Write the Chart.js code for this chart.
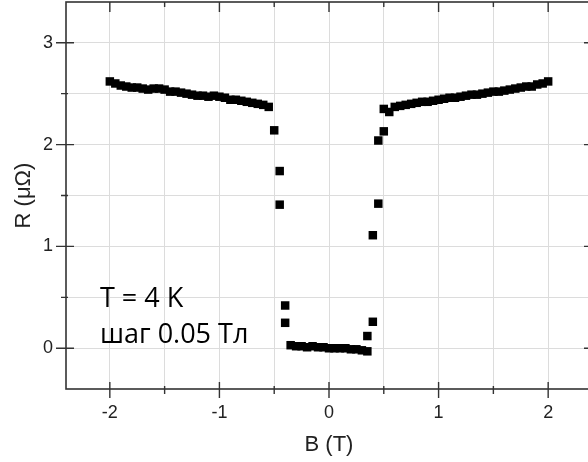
<!DOCTYPE html>
<html>
<head>
<meta charset="utf-8">
<script src="https://cdn.jsdelivr.net/npm/chart.js@4"></script>
<style>
  html, body { margin: 0; padding: 0; background: #fff; overflow: hidden; }
  #wrap { position: relative; width: 600px; height: 462px; }
</style>
</head>
<body>
<div id="wrap"><canvas id="rbChart"></canvas></div>
<script>
// Magnetic field B (T), swept in 0.05 T steps; doubled points at the transitions
const fieldB = [
  -2.00, -1.95, -1.90, -1.85, -1.80, -1.75, -1.70, -1.65, -1.60, -1.55,
  -1.50, -1.45, -1.40, -1.35, -1.30, -1.25, -1.20, -1.15, -1.10, -1.05,
  -1.00, -0.95, -0.90, -0.85, -0.80, -0.75, -0.70, -0.65, -0.60, -0.55,
  -0.50, -0.45, -0.45, -0.40, -0.40,
  -0.35, -0.30, -0.25, -0.20, -0.15, -0.10, -0.05, 0.00, 0.05, 0.10,
  0.15, 0.20, 0.25, 0.30, 0.35,
  0.35, 0.40, 0.40, 0.45, 0.45, 0.50, 0.50, 0.55,
  0.60, 0.65, 0.70, 0.75, 0.80, 0.85, 0.90, 0.95, 1.00, 1.05,
  1.10, 1.15, 1.20, 1.25, 1.30, 1.35, 1.40, 1.45, 1.50, 1.55,
  1.60, 1.65, 1.70, 1.75, 1.80, 1.85, 1.90, 1.95, 2.00
];
// Resistance R (uOhm)
const resistR = [
  2.62, 2.60, 2.58, 2.57, 2.56, 2.56, 2.55, 2.54, 2.55, 2.55,
  2.54, 2.52, 2.52, 2.51, 2.50, 2.49, 2.48, 2.48, 2.47, 2.48,
  2.47, 2.46, 2.44, 2.44, 2.43, 2.42, 2.41, 2.40, 2.39, 2.37,
  2.14, 1.74, 1.41, 0.42, 0.25,
  0.03, 0.02, 0.02, 0.01, 0.02, 0.01, 0.01, 0.00, 0.00, 0.00,
  0.00, -0.01, -0.01, -0.02, -0.03,
  0.12, 0.26, 1.11, 1.42, 2.04, 2.13, 2.35, 2.32,
  2.37, 2.38, 2.39, 2.40, 2.41, 2.42, 2.42, 2.43, 2.44, 2.45,
  2.46, 2.46, 2.47, 2.48, 2.49, 2.49, 2.50, 2.51, 2.52, 2.52,
  2.53, 2.54, 2.55, 2.56, 2.57, 2.57, 2.59, 2.60, 2.62
];
const xTickLabels = [-2, -1, 0, 1, 2];
const yTickLabels = [0, 1, 2, 3];
const noteLines = ['T = 4 K', 'шаг 0.05 Тл'];

const points = fieldB.map((b, i) => ({ x: b, y: resistR[i] }));

// frame with Origin-style ticks crossing the axes
const framePlugin = {
  id: 'frame',
  afterDraw(chart) {
    const { ctx, chartArea: a, scales: { x, y } } = chart;
    ctx.save();
    ctx.strokeStyle = '#333';
    ctx.lineWidth = 1.6;
    ctx.strokeRect(a.left, a.top, a.right - a.left, a.bottom - a.top);
    ctx.lineWidth = 1.4;
    ctx.beginPath();
    for (let v = -2; v <= 2.001; v += 0.5) {
      const px = x.getPixelForValue(v);
      const major = Math.abs(v - Math.round(v)) < 1e-6;
      ctx.moveTo(px, a.bottom - (major ? 7 : 3));
      ctx.lineTo(px, a.bottom + (major ? 9 : 5));
      ctx.moveTo(px, a.top);
      ctx.lineTo(px, a.top + (major ? 10 : 5));
    }
    for (let v = 0; v <= 3.001; v += 0.5) {
      const py = y.getPixelForValue(v);
      const major = Math.abs(v - Math.round(v)) < 1e-6;
      ctx.moveTo(a.left - (major ? 10 : 5), py);
      ctx.lineTo(a.left + (major ? 8 : 2), py);
      ctx.moveTo(a.right, py);
      ctx.lineTo(a.right - (major ? 8 : 4), py);
    }
    ctx.stroke();
    // note text
    ctx.fillStyle = '#000';
    ctx.font = '27px "Open Sans"';
    ctx.textBaseline = 'middle';
    ctx.textAlign = 'left';
    const tx = x.getPixelForValue(-2.09);
    ctx.fillText(noteLines[0], tx, y.getPixelForValue(0.48));
    ctx.fillText(noteLines[1], tx, y.getPixelForValue(0.125));
    ctx.restore();
  }
};

const ctx = document.getElementById('rbChart').getContext('2d');
new Chart(ctx, {
  type: 'scatter',
  data: {
    datasets: [{
      data: points,
      pointStyle: 'rect',
      pointRadius: 6,
      pointHoverRadius: 6,
      pointBackgroundColor: '#000',
      pointBorderWidth: 0,
      showLine: false
    }]
  },
  options: {
    responsive: true,
    maintainAspectRatio: false,
    animation: false,
    layout: { autoPadding: false, padding: { top: 2, right: 8, left: 0, bottom: 0 } },
    plugins: { legend: { display: false }, tooltip: { enabled: false } },
    scales: {
      x: {
        type: 'linear',
        min: -2.4,
        max: 2.4,
        afterFit(scale) {
          scale.height = 73;
          scale.paddingLeft = 0;
          scale.paddingRight = 0;
        },
        border: { display: false },
        grid: { color: '#dcdcdc', lineWidth: 1, drawTicks: false },
        ticks: {
          stepSize: 0.5,
          includeBounds: false,
          padding: 13,
          color: '#222',
          font: { family: '"Liberation Sans", Arial', size: 18 },
          callback: v => xTickLabels.includes(v) ? String(v) : ''
        },
        title: {
          display: true,
          text: 'B (T)',
          color: '#222',
          font: { family: '"Liberation Sans", Arial', size: 22 },
          padding: { top: 0, bottom: 4 }
        }
      },
      y: {
        type: 'linear',
        min: -0.4,
        max: 3.4,
        afterFit(scale) {
          scale.width = 66;
          scale.paddingTop = 0;
          scale.paddingBottom = 0;
        },
        border: { display: false },
        grid: { color: '#dcdcdc', lineWidth: 1, drawTicks: false },
        ticks: {
          stepSize: 0.5,
          includeBounds: false,
          padding: 13,
          color: '#222',
          font: { family: '"Liberation Sans", Arial', size: 18 },
          callback: v => yTickLabels.includes(v) ? String(v) : ''
        },
        title: {
          display: true,
          text: 'R (\u03BC\u03A9)',
          color: '#222',
          font: { family: '"Liberation Sans", Arial', size: 22 },
          padding: { top: 11, bottom: 0 }
        }
      }
    }
  },
  plugins: [framePlugin]
});
</script>
</body>
</html>
